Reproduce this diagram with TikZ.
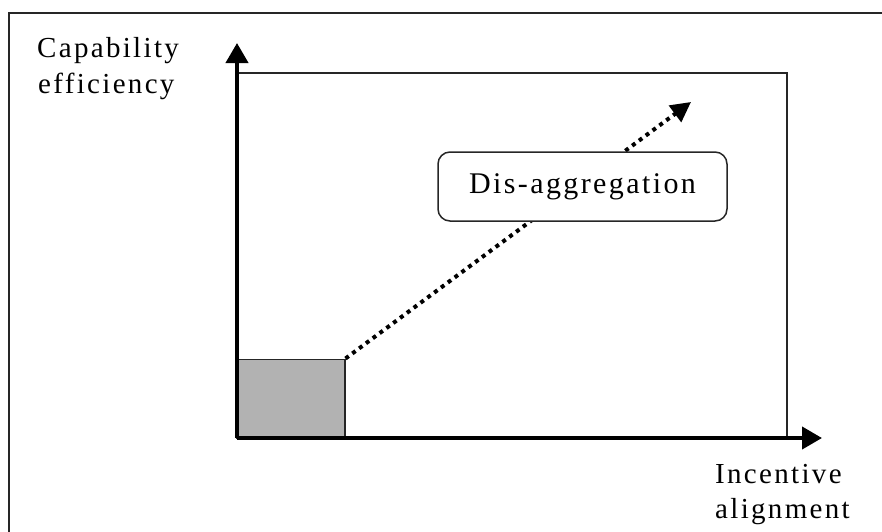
\documentclass[tikz,border=0pt]{standalone}
\usepackage{fontspec}
\setmainfont{Liberation Serif}
\newfontfamily\lblfont[LetterSpace=8]{Liberation Serif}
\usetikzlibrary{arrows.meta}
\begin{document}
\begin{tikzpicture}[x=1pt,y=-1pt,
  lbl/.style={font=\lblfont\fontsize{29}{36}\selectfont, inner sep=0pt, anchor=base west},
  axis/.style={line width=4pt, -{Triangle[length=20pt,width=22pt]}},
  frame/.style={draw=black!85, line width=1.5pt},
  ]
\useasboundingbox (0,0) rectangle (882,531);
\begin{scope}
\clip (0,0) rectangle (882,531);
\draw[frame] (9,13) rectangle (900,560);
\end{scope}
% inner rectangle
\draw[frame] (237,73) rectangle (787,438);
% origin
\coordinate (O) at (237,438);
\coordinate (ytip) at (237,43);
\coordinate (xtip) at (822,438);
\coordinate (dtip) at (691,102);
% gray square
\node[draw=black!85, line width=1.5pt, fill=black!30, minimum width=107pt, minimum height=78pt, inner sep=0pt, anchor=south west] (sq) at (O) {};
% dotted arrow
\draw[line width=4pt, dash pattern=on 4pt off 4.5pt, -{Triangle[length=20pt,width=20pt]}] (sq.north east) -- (dtip);
% label box
\node[draw=black!85, line width=1.5pt, fill=white, rounded corners=12pt, minimum width=289pt, minimum height=69pt, inner sep=0pt,
  font=\lblfont\fontsize{30}{36}\selectfont] (box) at (582.5,186.5) {Dis-aggregation};
% axes
\draw[axis] (O) -- (ytip);
\draw[axis] (O) -- (xtip);
% labels
\node[lbl] (cap) at (37,57) {Capability};
\node[lbl] (eff) at (38,93) {efficiency};
\node[lbl] (inc) at (715,483) {Incentive};
\node[lbl] (ali) at (715,518) {alignment};
\end{tikzpicture}
\end{document}
